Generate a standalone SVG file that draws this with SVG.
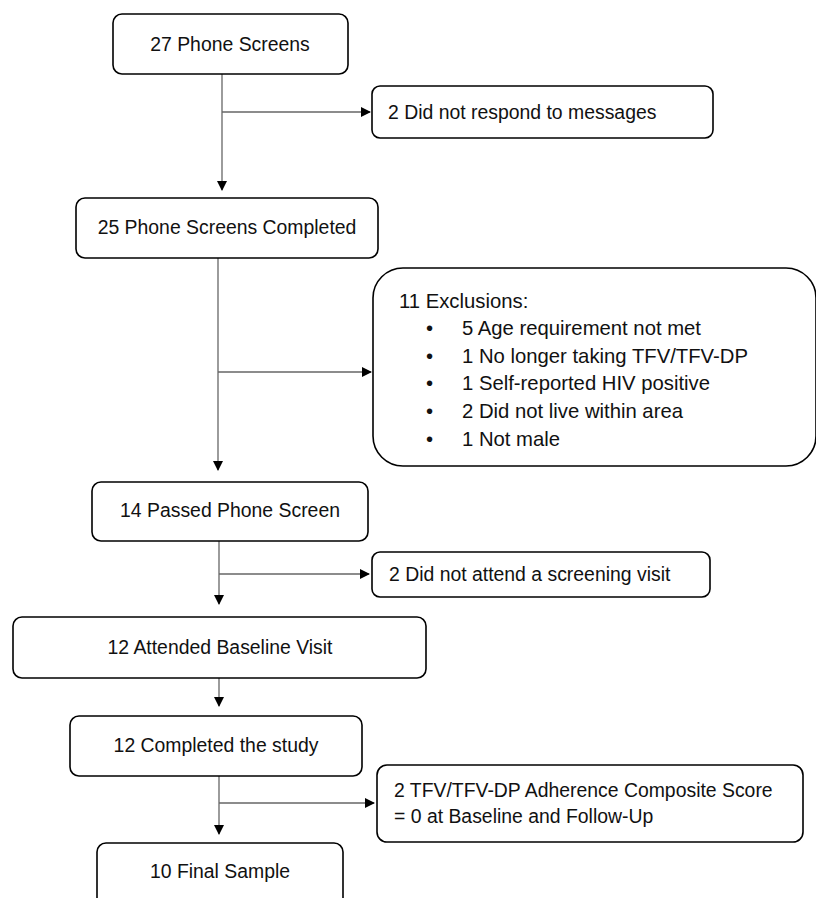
<svg xmlns="http://www.w3.org/2000/svg" width="816" height="898" viewBox="0 0 816 898">
<defs>
<marker id="ah" markerWidth="10" markerHeight="10" refX="9" refY="5" orient="auto" markerUnits="userSpaceOnUse">
<path d="M0,0 L10,5 L0,10 Z" fill="#000"/>
</marker>
<style>
.box{fill:#fff;stroke:#000;stroke-width:1.6}
.t{font-family:"Liberation Sans",Arial,sans-serif;font-size:19.4px;fill:#111}
.b{font-size:20.3px}
.c{text-anchor:middle}
.ln{stroke:#666;stroke-width:1.3;fill:none}
</style>
</defs>
<rect width="816" height="898" fill="#fff"/>
<g id="connectors">
<line class="ln" x1="222" y1="74" x2="222" y2="190" marker-end="url(#ah)"/>
<line class="ln" x1="222" y1="112" x2="370" y2="112" marker-end="url(#ah)"/>
<line class="ln" x1="218" y1="258" x2="218" y2="470" marker-end="url(#ah)"/>
<line class="ln" x1="218" y1="372" x2="371" y2="372" marker-end="url(#ah)"/>
<line class="ln" x1="219" y1="541" x2="219" y2="604" marker-end="url(#ah)"/>
<line class="ln" x1="219" y1="574" x2="369" y2="574" marker-end="url(#ah)"/>
<line class="ln" x1="219" y1="678" x2="219" y2="706" marker-end="url(#ah)"/>
<line class="ln" x1="219" y1="776" x2="219" y2="834" marker-end="url(#ah)"/>
<line class="ln" x1="219" y1="803" x2="374" y2="803" marker-end="url(#ah)"/>
</g>
<g id="n1"><rect class="box" x="113" y="14" width="235" height="60" rx="9"/><text class="t c" x="230" y="51">27 Phone Screens</text></g>
<g id="n2"><rect class="box" x="372" y="86" width="341" height="52" rx="8"/><text class="t" x="388" y="119">2 Did not respond to messages</text></g>
<g id="n3"><rect class="box" x="76" y="198" width="302" height="60" rx="9"/><text class="t c" x="227" y="234">25 Phone Screens Completed</text></g>
<g id="n4"><rect class="box" x="373" y="268" width="443" height="198" rx="30"/>
<g class="t b">
<text x="399" y="308">11 Exclusions:</text>
<text x="426" y="335">•</text><text x="462" y="335">5 Age requirement not met</text>
<text x="426" y="363">•</text><text x="462" y="363">1 No longer taking TFV/TFV-DP</text>
<text x="426" y="390">•</text><text x="462" y="390">1 Self-reported HIV positive</text>
<text x="426" y="418">•</text><text x="462" y="418">2 Did not live within area</text>
<text x="426" y="446">•</text><text x="462" y="446">1 Not male</text>
</g></g>
<g id="n5"><rect class="box" x="92" y="482" width="276" height="59" rx="9"/><text class="t c" x="230" y="517">14 Passed Phone Screen</text></g>
<g id="n6"><rect class="box" x="372" y="552" width="338" height="45" rx="8"/><text class="t" x="389" y="581">2 Did not attend a screening visit</text></g>
<g id="n7"><rect class="box" x="13" y="617" width="413" height="61" rx="9"/><text class="t c" x="220" y="654">12 Attended Baseline Visit</text></g>
<g id="n8"><rect class="box" x="70" y="716" width="292" height="60" rx="9"/><text class="t c" x="216" y="752">12 Completed the study</text></g>
<g id="n9"><rect class="box" x="377" y="765" width="426" height="77" rx="10"/><text class="t" x="394" y="797">2 TFV/TFV-DP Adherence Composite Score</text><text class="t" x="394" y="823">= 0 at Baseline and Follow-Up</text></g>
<g id="n10"><rect class="box" x="97" y="843" width="246" height="70" rx="9"/><text class="t c" x="220" y="878">10 Final Sample</text></g>
</svg>
